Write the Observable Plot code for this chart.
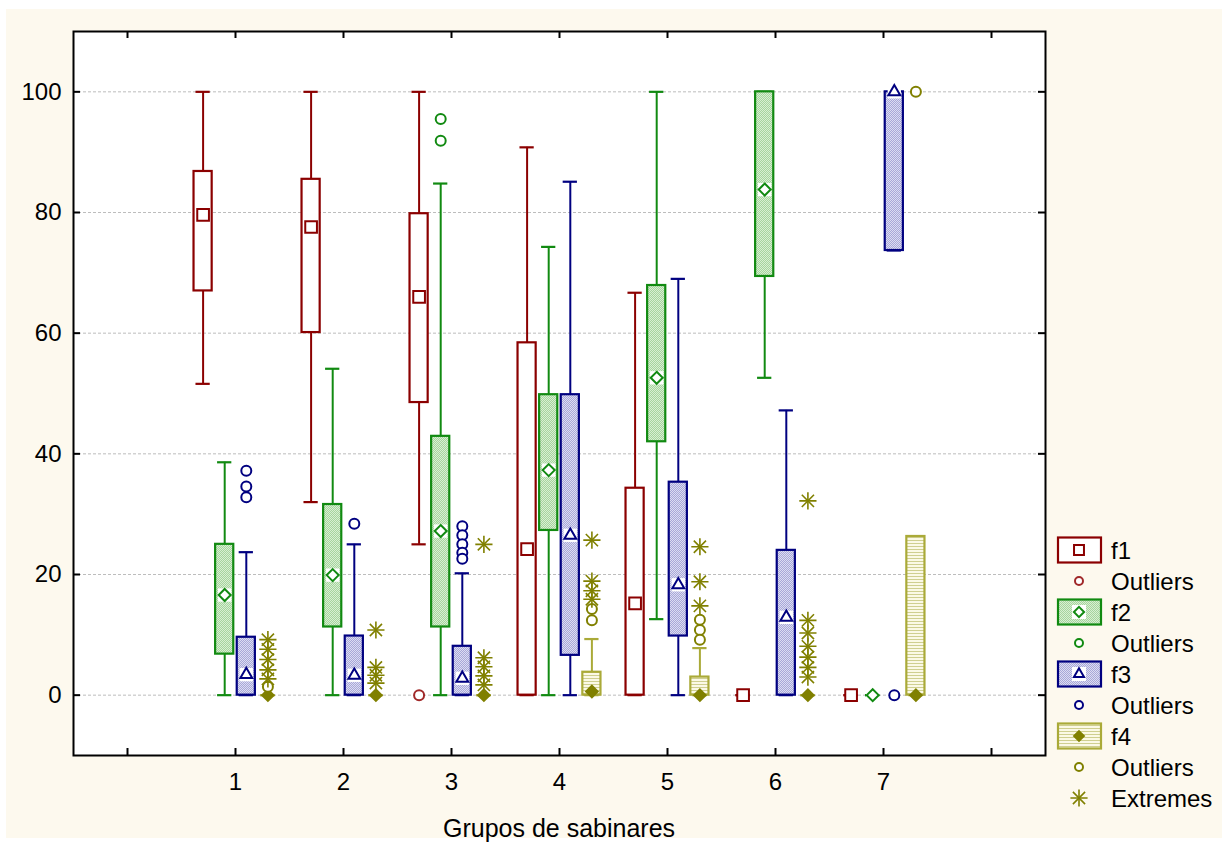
<!DOCTYPE html>
<html><head><meta charset="utf-8">
<script src="https://cdn.jsdelivr.net/npm/d3@7"></script>
<script src="https://cdn.jsdelivr.net/npm/@observablehq/plot@0.6"></script>
<style>
html,body{margin:0;padding:0;background:#fff;overflow:hidden;}
#wrap{position:absolute;left:6px;top:9px;width:1216px;height:829px;background:#fdf9ee;font-family:"Liberation Sans",Arial,sans-serif;}
#chart{position:absolute;left:0;top:0;}
#xtitle{position:absolute;left:67px;width:972px;top:807px;text-align:center;font-size:25px;line-height:25px;color:#000;}
#legend{position:absolute;left:1044px;top:521px;}
</style></head><body>
<div id="wrap"><div id="chart"></div><div id="xtitle">Grupos de sabinares</div><svg id="legend" width="172" height="295"></svg></div>
<script>
// ---------- data ----------
const groups = [1, 2, 3, 4, 5, 6, 7];
const xTicks = [0, 1, 2, 3, 4, 5, 6, 7, 8];
const yTicks = [0, 20, 40, 60, 80, 100];

const f1Min = [51.6, 32.0, 25.0, 0, 0, 0, 0];
const f1Q1  = [67.0, 60.1, 48.5, 0, 0, 0, 0];
const f1Med = [79.6, 77.6, 66.0, 24.2, 15.2, 0, 0];
const f1Q3  = [86.8, 85.5, 79.8, 58.4, 34.3, 0, 0];
const f1Max = [100, 100, 100, 90.8, 66.7, 0, 0];

const f2Min = [0, 0, 0, 0, 12.6, 52.6, 0];
const f2Q1  = [6.8, 11.3, 11.3, 27.3, 42.0, 69.4, 0];
const f2Med = [16.6, 19.9, 27.2, 37.3, 52.6, 83.8, 0];
const f2Q3  = [25.0, 31.6, 42.9, 49.8, 67.9, 100, 0];
const f2Max = [38.6, 54.1, 84.8, 74.3, 100, 100, 0];

const f3Min = [0, 0, 0, 0, 0, 0, 73.7];
const f3Q1  = [0, 0, 0, 6.6, 9.8, 0, 73.7];
const f3Med = [3.4, 3.3, 2.8, 26.5, 18.3, 12.9, 100];
const f3Q3  = [9.6, 9.8, 8.1, 49.8, 35.3, 24.0, 100];
const f3Max = [23.7, 25.0, 20.2, 85.1, 69.0, 47.2, 100];

const f4Min = [0, 0, 0, 0, 0, 0, 0];
const f4Q1  = [0, 0, 0, 0, 0, 0, 0];
const f4Med = [0, 0, 0, 0.6, 0, 0, 0];
const f4Q3  = [0, 0, 0, 3.8, 3.0, 0, 26.3];
const f4Max = [0, 0, 0, 9.3, 7.8, 0, 26.3];

const f1OutGroup = [3];
const f1OutValue = [0];
const f2OutGroup = [3, 3];
const f2OutValue = [95.5, 91.9];
const f3OutGroup = [1, 1, 1, 2, 3, 3, 3, 3, 3, 7];
const f3OutValue = [37.2, 34.6, 32.8, 28.4, 28.0, 26.5, 25.0, 23.6, 22.6, 0];
const f4OutGroup = [1, 4, 4, 5, 5, 5, 7];
const f4OutValue = [1.4, 14.3, 12.4, 12.5, 10.8, 9.2, 100];
const f4ExtGroup = [1, 1, 1, 1, 1, 2, 2, 2, 2, 3, 3, 3, 3, 3, 4, 4, 4, 4, 5, 5, 5, 6, 6, 6, 6, 6, 6, 6];
const f4ExtValue = [9.2, 7.6, 5.9, 4.2, 2.7, 10.8, 4.6, 3.3, 2.0, 25.0, 6.2, 4.7, 3.2, 1.7, 25.7, 18.9, 17.3, 15.9, 24.6, 18.8, 14.8, 32.2, 12.4, 10.3, 8.1, 6.3, 4.6, 3.0];

// ---------- styles ----------
const C1 = "#8b0000", C2 = "#118a11", C3 = "#000080", C4 = "#808000", C4box = "#aaaa38";
const series = [
  {name: "f1", off: -0.3, min: f1Min, q1: f1Q1, med: f1Med, q3: f1Q3, max: f1Max, stroke: C1, fill: "white",
   sym: "square", symR: 6.6, symFill: "white", symStroke: C1, bg: false, outG: f1OutGroup, outV: f1OutValue, outC: "#a02828"},
  {name: "f2", off: -0.1, min: f2Min, q1: f2Q1, med: f2Med, q3: f2Q3, max: f2Max, stroke: C2, fill: "url(#pf2)",
   sym: "diamond2", symR: 5.4, symFill: "white", symStroke: C2, bg: true, outG: f2OutGroup, outV: f2OutValue, outC: C2},
  {name: "f3", off: 0.1, min: f3Min, q1: f3Q1, med: f3Med, q3: f3Q3, max: f3Max, stroke: C3, fill: "url(#pf3)",
   sym: "triangle", symR: 4.4, symFill: "white", symStroke: C3, bg: true, outG: f3OutGroup, outV: f3OutValue, outC: C3},
  {name: "f4", off: 0.3, min: f4Min, q1: f4Q1, med: f4Med, q3: f4Q3, max: f4Max, stroke: C4box, fill: "url(#pf4)",
   sym: "diamond2", symR: 5.2, symFill: C4, symStroke: C4, bg: false, outG: f4OutGroup, outV: f4OutValue, outC: C4}
];

const W = 1216, H = 829, mL = 67, mR = 177, mT = 22, mB = 83;
const plotW = W - mL - mR, plotH = H - mT - mB;
const boxHalf = 0.084, capHalf = 0.066;

const marks = [
  Plot.frame({fill: "white", stroke: "none"}),
  Plot.gridY(yTicks, {stroke: "#bdbdbd", strokeOpacity: 1, strokeDasharray: "3,2"}),
  Plot.axisY(yTicks, {anchor: "left", tickSize: 0, tickPadding: 12, fontSize: 24, label: null}),
  Plot.axisX(xTicks, {anchor: "bottom", tickSize: 0, tickPadding: 17, fontSize: 24, label: null,
    tickFormat: d => (d >= 1 && d <= 7 ? String(d) : "")}),
  Plot.tickY(yTicks, {y: d => d, insetRight: plotW - 7, stroke: "black", strokeWidth: 2}),
  Plot.tickY(yTicks, {y: d => d, insetLeft: plotW - 7, stroke: "black", strokeWidth: 2}),
  Plot.tickX(xTicks, {x: d => d, insetTop: plotH - 7, stroke: "black", strokeWidth: 2}),
  Plot.tickX(xTicks, {x: d => d, insetBottom: plotH - 7, stroke: "black", strokeWidth: 2})
];

for (const s of series) {
  const rows = groups.map((g, i) => ({x: g + s.off, min: s.min[i], q1: s.q1[i], med: s.med[i], q3: s.q3[i], max: s.max[i]}));
  const wc = s.stroke;
  marks.push(
    Plot.ruleX(rows, {x: "x", y1: "min", y2: "q1", stroke: wc, strokeWidth: 2}),
    Plot.ruleX(rows, {x: "x", y1: "q3", y2: "max", stroke: wc, strokeWidth: 2}),
    Plot.ruleY(rows, {y: "min", x1: d => d.x - capHalf, x2: d => d.x + capHalf, stroke: wc, strokeWidth: 2.2}),
    Plot.ruleY(rows, {y: "max", x1: d => d.x - capHalf, x2: d => d.x + capHalf, stroke: wc, strokeWidth: 2.2}),
    Plot.rect(rows, {x1: d => d.x - boxHalf, x2: d => d.x + boxHalf, y1: "q1", y2: "q3", fill: s.fill, stroke: s.stroke, strokeWidth: 2.2})
  );
  if (s.bg) marks.push(Plot.dot(rows, {x: "x", y: "med", symbol: "square", r: 7.5, fill: "white", stroke: "none"}));
  marks.push(Plot.dot(rows, {x: "x", y: "med", symbol: s.sym, r: s.symR, fill: s.symFill, stroke: s.symStroke, strokeWidth: 2}));
  const outs = s.outG.map((g, i) => ({x: g + s.off, y: s.outV[i]}));
  marks.push(Plot.dot(outs, {x: "x", y: "y", r: 5, fill: "white", stroke: s.outC, strokeWidth: 2}));
}
const ext = f4ExtGroup.map((g, i) => ({x: g + 0.3, y: f4ExtValue[i]}));
marks.push(
  Plot.dot(ext, {x: "x", y: "y", symbol: "plus", r: 5.6, stroke: C4, strokeWidth: 1.6}),
  Plot.dot(ext, {x: "x", y: "y", symbol: "times", r: 5.6, stroke: C4, strokeWidth: 1.6}),
  Plot.frame({stroke: "black", strokeWidth: 2})
);

const chart = Plot.plot({
  width: W, height: H, marginLeft: mL, marginRight: mR, marginTop: mT, marginBottom: mB,
  x: {domain: [-0.5, 8.5], axis: null},
  y: {domain: [-10, 110], axis: null},
  style: {background: "transparent", fontFamily: "'Liberation Sans', Arial, sans-serif", fontSize: "24px", color: "black"},
  marks
});
document.getElementById("chart").appendChild(chart);

// ---------- patterns + legend ----------
const leg = d3.select("#legend");
leg.append("defs").html(`
  <pattern id="pf2" width="2" height="2" patternUnits="userSpaceOnUse">
    <rect width="2" height="2" fill="#d8efd2"/><rect width="1" height="1" fill="#a6d49e"/><rect x="1" y="1" width="1" height="1" fill="#a6d49e"/>
  </pattern>
  <pattern id="pf3" width="2" height="2" patternUnits="userSpaceOnUse">
    <rect width="2" height="2" fill="#dcdcf2"/><rect width="1" height="1" fill="#a8a8d8"/><rect x="1" y="1" width="1" height="1" fill="#a8a8d8"/>
  </pattern>
  <pattern id="pf4" width="3" height="3" patternUnits="userSpaceOnUse">
    <rect width="3" height="3" fill="#fbf9e6"/><rect width="3" height="1" fill="#cfcf90"/>
  </pattern>`);

const symMap = {square: d3.symbolSquare, diamond2: d3.symbolDiamond2, triangle: d3.symbolTriangle, plus: d3.symbolPlus, times: d3.symbolTimes, circle: d3.symbolCircle};
function sym(type, r) { return d3.symbol(symMap[type], Math.PI * r * r)(); }

const legendLabels = ["f1", "Outliers", "f2", "Outliers", "f3", "Outliers", "f4", "Outliers", "Extremes"];
const rowY = i => 20 + i * 31;
legendLabels.forEach((lab, i) => {
  const y = rowY(i);
  const g = leg.append("g");
  if (i === 8) {
    g.append("path").attr("d", sym("plus", 5.6)).attr("transform", `translate(29,${y})`).attr("stroke", C4).attr("stroke-width", 1.6).attr("fill", "none");
    g.append("path").attr("d", sym("times", 5.6)).attr("transform", `translate(29,${y})`).attr("stroke", C4).attr("stroke-width", 1.6).attr("fill", "none");
  } else if (i % 2 === 1) {
    const s = series[(i - 1) / 2];
    g.append("circle").attr("cx", 29).attr("cy", y).attr("r", 4).attr("fill", "white").attr("stroke", s.outC).attr("stroke-width", 2);
  } else {
    const s = series[i / 2];
    g.append("rect").attr("x", 8).attr("y", y - 12.5).attr("width", 43).attr("height", 25)
      .attr("fill", s.fill).attr("stroke", s.stroke).attr("stroke-width", 2.2);
    if (s.bg) g.append("rect").attr("x", 22).attr("y", y - 7).attr("width", 14).attr("height", 14).attr("fill", "white");
    g.append("path").attr("d", sym(s.sym, s.symR * 0.85)).attr("transform", `translate(29,${y})`)
      .attr("fill", s.symFill).attr("stroke", s.symStroke).attr("stroke-width", 2);
  }
  g.append("text").attr("x", 61).attr("y", y).attr("dy", "0.36em").attr("font-size", 24)
    .attr("font-family", "'Liberation Sans', Arial, sans-serif").attr("fill", "black").text(lab);
});
</script>
</body></html>
